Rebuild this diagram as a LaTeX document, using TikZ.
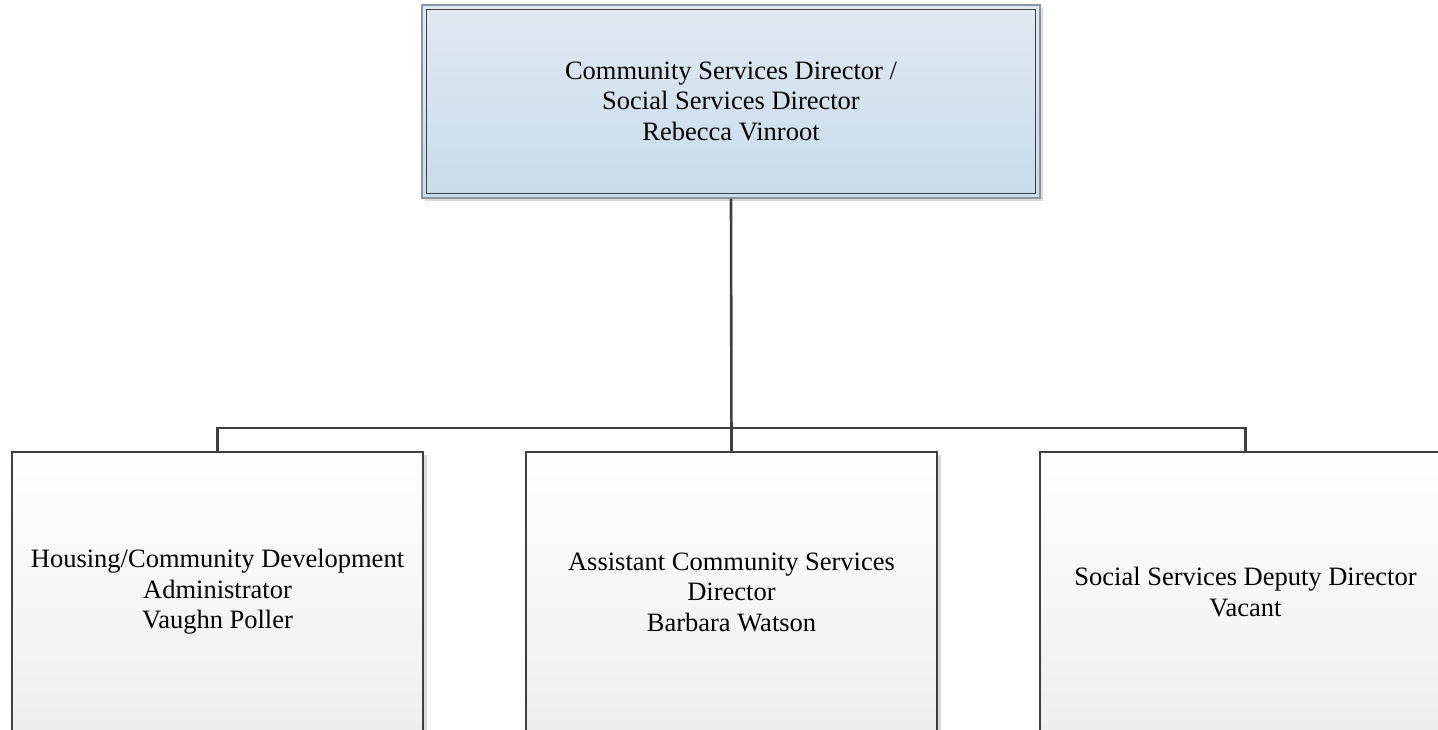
\documentclass[tikz,border=0pt]{standalone}
\usepackage{fontspec}
\setmainfont{Liberation Serif}
\definecolor{linedark}{HTML}{3F3F3F}
\definecolor{frameblue}{HTML}{8A96A3}
\definecolor{topfillA}{HTML}{E0E9F2}
\definecolor{topfillB}{HTML}{C8DBEA}
\definecolor{boxfillB}{HTML}{EEEEEE}
\definecolor{shadowgray}{HTML}{DADADA}
\begin{document}
\begin{tikzpicture}[x=1pt,y=-1pt,
  every node/.style={font=\fontsize{26.5}{30.5}\selectfont, align=center, inner sep=0pt},
  headbox/.style={rectangle, minimum width=618pt, minimum height=193pt,
    draw=frameblue, line width=1.3pt, top color=topfillA, bottom color=topfillB},
  unitbox/.style={rectangle, minimum width=411pt, minimum height=280pt,
    draw=linedark, line width=1.1pt, top color=white, bottom color=boxfillB},
  boxshadow/.style={fill=shadowgray},
  orgline/.style={draw=linedark, line width=2.6pt}
]
\useasboundingbox (0,0) rectangle (1438,730);
\clip (0,0) rectangle (1438,730);
\fill[white] (0,0) rectangle (1438,730);

% drop shadows
\fill[boxshadow] (425,198) rectangle (1043,201);
\fill[boxshadow] (1040,8) rectangle (1043,201);
\fill[boxshadow] (423,455) rectangle (427,730);
\fill[boxshadow] (937,455) rectangle (941,730);

% director box with inner frame
\node[headbox] (dir) at (731,101.5) {};
\draw[linedark, line width=1pt] ([shift={(5.5pt,-5.5pt)}]dir.north west) rectangle ([shift={(-5.5pt,5.5pt)}]dir.south east);
\node (dirtext) at (731,101) {Community Services Director /\\ Social Services Director\\Rebecca Vinroot};

% reporting units
\node[unitbox] (hcd) at (217.5,592) {Housing/Community Development\\Administrator\\Vaughn Poller};
\node[unitbox] (acs) at (731.5,592) {Assistant Community Services\\Director\\Barbara Watson};
\node[unitbox] (ssd) at (1245.5,592) {Social Services Deputy Director\\Vacant};

% connectors
\coordinate (bus) at (731,428);
\draw[orgline] (dir.south) -- (acs.north);
\draw[orgline] (hcd.north) |- (bus) -| (ssd.north);
\end{tikzpicture}
\end{document}
